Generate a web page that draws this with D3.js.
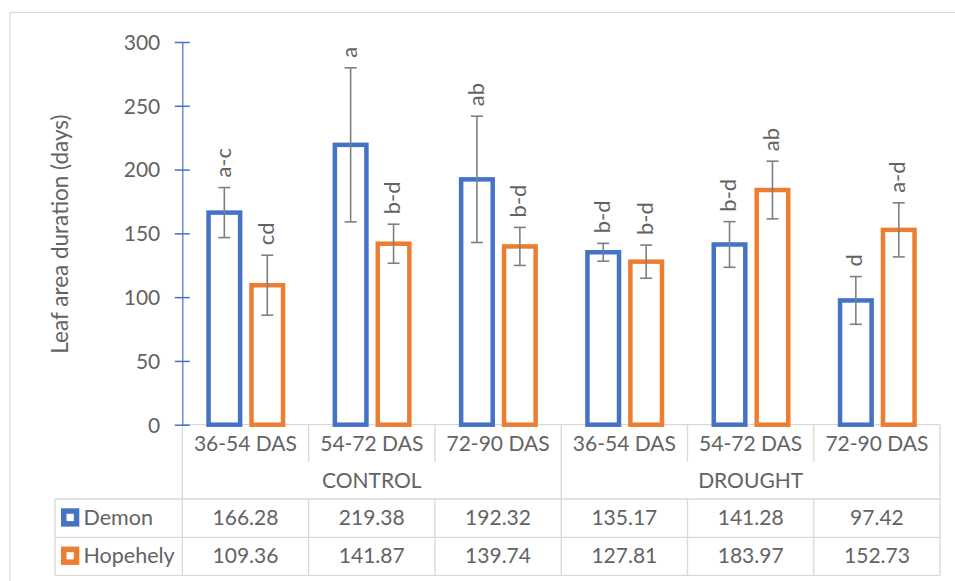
<!DOCTYPE html>
<html>
<head>
<meta charset="utf-8">
<script src="https://cdn.jsdelivr.net/npm/d3@7"></script>
<style>
  html, body { margin: 0; padding: 0; background: #fff; }
  svg { display: block; font-family: Lato, "Open Sans", sans-serif; }
</style>
</head>
<body>
<svg id="chart" width="955" height="581"></svg>
<script>
// ---- data ----
const categories = ["36-54 DAS", "54-72 DAS", "72-90 DAS", "36-54 DAS", "54-72 DAS", "72-90 DAS"];
const groups = ["CONTROL", "DROUGHT"];
const seriesNames = ["Demon", "Hopehely"];
const demonValues = [166.28, 219.38, 192.32, 135.17, 141.28, 97.42];
const hopehelyValues = [109.36, 141.87, 139.74, 127.81, 183.97, 152.73];
const demonErrors = [19.6, 60.4, 49.5, 7.0, 17.9, 18.7];
const hopehelyErrors = [23.5, 15.3, 14.9, 13.0, 22.6, 21.2];
const demonLetters = ["a-c", "a", "ab", "b-d", "b-d", "d"];
const hopehelyLetters = ["cd", "b-d", "b-d", "b-d", "ab", "a-d"];
const yTicks = [0, 50, 100, 150, 200, 250, 300];
const yTitle = "Leaf area duration (days)";
const colors = ["#4472C4", "#ED7D31"];

const seriesValues = [demonValues, hopehelyValues];
const seriesErrors = [demonErrors, hopehelyErrors];
const seriesLetters = [demonLetters, hopehelyLetters];

// ---- layout ----
const svg = d3.select("#chart");
const textColor = "#636363";
const gridColor = "#d9d9d9";
const plotLeft = 182.3, plotRight = 940.1;
const yTop = 42, yBottom = 424.7;
const tableLeft = 55;
const rowCat = 461.7, rowGroup = 499, rowDemon = 537.3, rowHope = 575.3;
const fs = 21;

// outer chart border
svg.append("rect").attr("x", 10).attr("y", 12.5).attr("width", 960).attr("height", 600)
  .attr("fill", "none").attr("stroke", gridColor).attr("stroke-width", 1.2);

const x = d3.scaleBand().domain(d3.range(categories.length)).range([plotLeft, plotRight]).padding(0);
const xs = d3.scaleBand().domain(seriesNames).range([24, 103]).paddingInner(0.16).paddingOuter(0);
const y = d3.scaleLinear().domain([0, 300]).range([yBottom, yTop]);

// table / category grid lines
const grid = svg.append("g").attr("stroke", gridColor).attr("stroke-width", 1.3);
grid.append("line").attr("x1", plotLeft).attr("x2", plotRight).attr("y1", yBottom).attr("y2", yBottom);
[rowGroup, rowDemon, rowHope].forEach(r =>
  grid.append("line").attr("x1", tableLeft).attr("x2", plotRight).attr("y1", r).attr("y2", r));
grid.append("line").attr("x1", tableLeft).attr("x2", tableLeft).attr("y1", rowGroup).attr("y2", rowHope);
d3.range(categories.length + 1).forEach(i => {
  const xx = i < categories.length ? x(i) : plotRight;
  const full = (i === 0 || i === 3 || i === categories.length);
  grid.append("line").attr("x1", xx).attr("x2", xx)
    .attr("y1", yBottom).attr("y2", rowCat);
  grid.append("line").attr("x1", xx).attr("x2", xx)
    .attr("y1", full ? rowCat : rowGroup).attr("y2", rowHope);
});

// y axis
const yAxis = d3.axisLeft(y).tickValues(yTicks).tickSize(0).tickPadding(0);
const ya = svg.append("g").attr("transform", `translate(${plotLeft},0)`).call(yAxis);
ya.select(".domain").attr("stroke", colors[0]).attr("stroke-width", 1.2);
ya.selectAll(".tick text").attr("x", -22).attr("fill", textColor)
  .attr("font-size", fs).attr("font-family", "Lato, sans-serif").attr("dy", "0.35em");
ya.selectAll(".tick").append("line").attr("x1", -7.5).attr("x2", 7.5)
  .attr("stroke", colors[0]).attr("stroke-width", 1.5);

// y title
svg.append("text").attr("transform", `translate(60,234) rotate(-90)`)
  .attr("text-anchor", "middle").attr("dy", "0.35em")
  .attr("fill", textColor).attr("font-size", 22.5).text(yTitle);

// bars
const sw = 4.5;
seriesNames.forEach((s, si) => {
  const g = svg.append("g");
  seriesValues[si].forEach((v, i) => {
    const bx = x(i) + xs(s);
    const bw = xs.bandwidth();
    g.append("rect")
      .attr("x", bx + sw / 2).attr("width", bw - sw)
      .attr("y", y(v)).attr("height", y(0) - y(v))
      .attr("fill", "#fff").attr("stroke", colors[si]).attr("stroke-width", sw);
  });
});

// error bars and letters
seriesNames.forEach((s, si) => {
  const g = svg.append("g");
  seriesValues[si].forEach((v, i) => {
    const cx = x(i) + xs(s) + xs.bandwidth() / 2;
    const e = seriesErrors[si][i];
    const top = y(v + e), bot = y(v - e);
    g.append("line").attr("x1", cx).attr("x2", cx).attr("y1", top).attr("y2", bot)
      .attr("stroke", "#7f7f7f").attr("stroke-width", 1.6);
    [top, bot].forEach(yy => g.append("line").attr("x1", cx - 6).attr("x2", cx + 6)
      .attr("y1", yy).attr("y2", yy).attr("stroke", "#7f7f7f").attr("stroke-width", 1.6));
    g.append("text").attr("transform", `translate(${cx},${top - 10}) rotate(-90)`)
      .attr("text-anchor", "start").attr("dy", "0.3em")
      .attr("fill", textColor).attr("font-size", 22).text(seriesLetters[si][i]);
  });
});

// category labels
svg.append("g").selectAll("text").data(categories).join("text")
  .attr("x", (d, i) => x(i) + x.bandwidth() / 2).attr("y", 450.5)
  .attr("text-anchor", "middle").attr("fill", textColor).attr("font-size", fs).text(d => d);

// group labels
groups.forEach((gname, gi) => {
  const x0 = x(gi * 3), x1 = gi * 3 + 3 < categories.length ? x(gi * 3 + 3) : plotRight;
  svg.append("text").attr("x", (x0 + x1) / 2).attr("y", 487.5)
    .attr("text-anchor", "middle").attr("fill", textColor).attr("font-size", fs).text(gname);
});

// table rows
const rowBaselines = [525, 563.3];
const fmt = d3.format(".2f");
seriesNames.forEach((s, si) => {
  const by = rowBaselines[si];
  svg.append("rect").attr("x", 61 + 2.75).attr("y", by - 16.7 + 2.75)
    .attr("width", 18.3 - 5.5).attr("height", 18.3 - 5.5)
    .attr("fill", "#fff").attr("stroke", colors[si]).attr("stroke-width", 5.5);
  svg.append("text").attr("x", 83.5).attr("y", by).attr("fill", textColor)
    .attr("font-size", 21.5).text(s);
  seriesValues[si].forEach((v, i) => {
    svg.append("text").attr("x", x(i) + x.bandwidth() / 2).attr("y", by)
      .attr("text-anchor", "middle").attr("fill", textColor).attr("font-size", fs).text(fmt(v));
  });
});
</script>
</body>
</html>
